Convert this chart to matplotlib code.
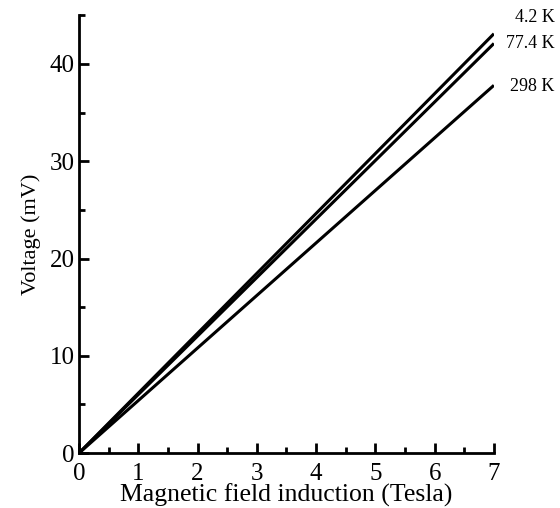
import matplotlib.pyplot as plt
from matplotlib.ticker import MultipleLocator

plt.rcParams['font.family'] = 'Liberation Serif'

field = [0, 7]
v_4k = [0, 43.1]
v_77k = [0, 42.1]
v_298k = [0, 37.8]
labels = ['4.2 K', '77.4 K', '298 K']
label_y = [44.8, 42.1, 37.7]

fig = plt.figure(figsize=(5.6, 5.08), dpi=100)
ax = fig.add_axes([0.141, 0.108, 0.741, 0.862])

for v in (v_4k, v_77k, v_298k):
    ax.plot(field, v, color='black', lw=2.2, solid_capstyle='butt')

for lab, y in zip(labels, label_y):
    ax.text(8.02, y, lab, ha='right', va='center', fontsize=13, clip_on=False)

ax.set_xlim(0, 7)
ax.set_ylim(0, 45)
ax.xaxis.set_major_locator(MultipleLocator(1))
ax.xaxis.set_minor_locator(MultipleLocator(0.5))
ax.yaxis.set_major_locator(MultipleLocator(10))
ax.yaxis.set_minor_locator(MultipleLocator(5))
ax.tick_params(which='major', direction='in', length=7, width=2, labelsize=18, pad=3)
ax.tick_params(which='minor', direction='in', length=4, width=2)
ax.tick_params(axis='x', which='major', pad=7)
ax.spines['top'].set_visible(False)
ax.spines['right'].set_visible(False)
ax.spines['left'].set_linewidth(2)
ax.spines['bottom'].set_linewidth(2)
ax.set_xlabel('Magnetic field induction (Tesla)', fontsize=18.5, labelpad=-1)
ax.set_ylabel('Voltage (mV)', fontsize=16, labelpad=6)

fig.savefig('out.png', dpi=100)
